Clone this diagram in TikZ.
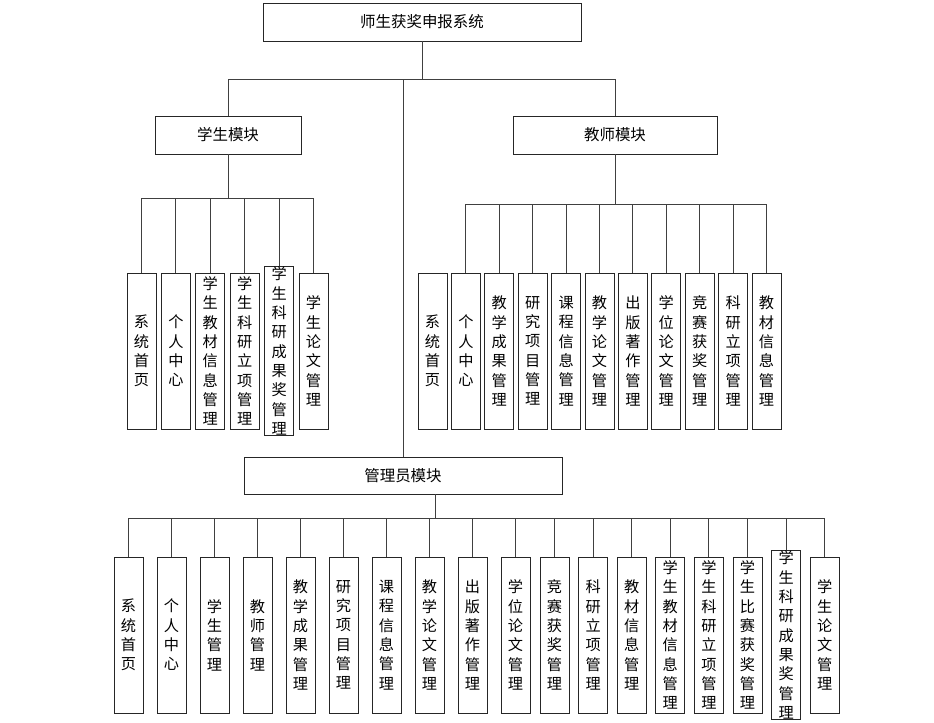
\documentclass[tikz,border=0pt]{standalone}
\usepackage{fontspec}
\setmainfont{Noto Sans CJK SC}
\usetikzlibrary{positioning}

% one character per line, for the narrow boxes
\newcommand\vchars[1]{\expandafter\vcharsA#1\relax}
\def\vcharsA#1#2\relax{#1\ifx\relax#2\relax\else\\\vcharsA#2\relax\fi}

\tikzset{
  modbox/.style={draw=black!85,line width=0.6pt,minimum height=28.5pt,inner sep=0pt,
    font=\fontsize{11.6}{14}\selectfont},
  leafbox/.style={draw=black!85,line width=0.6pt,minimum width=21.75pt,minimum height=117pt,
    inner sep=0pt,align=center,font=\fontsize{11.4}{14.5}\selectfont},
  wire/.style={draw=black!75,line width=0.7pt}
}

\begin{document}
\begin{tikzpicture}[x=0.75pt,y=-0.75pt]
  \useasboundingbox (0,0) rectangle (934,722);
  % top of the tree
  \node[modbox,minimum width=238.5pt] (sys) at (422,22) {师生获奖申报系统};
  \node[modbox,minimum width=109.5pt] (stu) at (228,135) {学生模块};
  \node[modbox,minimum width=153pt] (tea) at (615,135) {教师模块};
  \node[modbox,minimum width=238.5pt,minimum height=27.75pt] (adm) at (403,475.5) {管理员模块};
  \coordinate (b0) at (0,79);
  \draw[wire] (sys.south) -- (sys.south |- b0);
  \draw[wire] (stu.north) |- (tea.north |- b0) -- (tea.north);
  \draw[wire] (adm.north) -- (adm.north |- b0);

  % student module
  \foreach \lbl [count=\i] in {系统首页,个人中心,学生教材信息管理,学生科研立项管理,
      学生科研成果奖管理,学生论文管理}
    \node[leafbox] (s\i) at ({141.5+34.4*(\i-1)},351) {\vchars{\lbl}};
  \coordinate (b1) at (0,198);
  \draw[wire] (stu.south) -- (stu.south |- b1);
  \draw[wire] (s1.north |- b1) -- (s6.north |- b1);
  \foreach \i in {1,...,6}
    \draw[wire] (s\i.north) -- (s\i.north |- b1);

  % teacher module (first box has no line)
  \foreach \lbl [count=\i] in {系统首页,个人中心,教学成果管理,研究项目管理,课程信息管理,
      教学论文管理,出版著作管理,学位论文管理,竞赛获奖管理,科研立项管理,教材信息管理}
    \node[leafbox] (t\i) at ({432.5+33.4*(\i-1)},351) {\vchars{\lbl}};
  \coordinate (b2) at (0,204);
  \draw[wire] (tea.south) -- (tea.south |- b2);
  \draw[wire] (t2.north |- b2) -- (t11.north |- b2);
  \foreach \i in {2,...,11}
    \draw[wire] (t\i.north) -- (t\i.north |- b2);

  % admin module
  \foreach \lbl [count=\i] in {系统首页,个人中心,学生管理,教师管理,教学成果管理,研究项目管理,
      课程信息管理,教学论文管理,出版著作管理,学位论文管理}
    \node[leafbox] (a\i) at ({128.5+43*(\i-1)},635) {\vchars{\lbl}};
  \foreach \lbl [count=\i from 11] in {竞赛获奖管理,科研立项管理,教材信息管理,学生教材信息管理,
      学生科研立项管理,学生比赛获奖管理,学生科研成果奖管理,学生论文管理}
    \node[leafbox] (a\i) at ({554.5+38.6*(\i-11)},635) {\vchars{\lbl}};
  \coordinate (b3) at (435,518);
  \draw[wire] (b3 |- adm.south) -- (b3);
  \draw[wire] (a1.north |- b3) -- (a18.north |- b3);
  \foreach \i in {1,...,18}
    \draw[wire] (a\i.north) -- (a\i.north |- b3);
\end{tikzpicture}
\end{document}
